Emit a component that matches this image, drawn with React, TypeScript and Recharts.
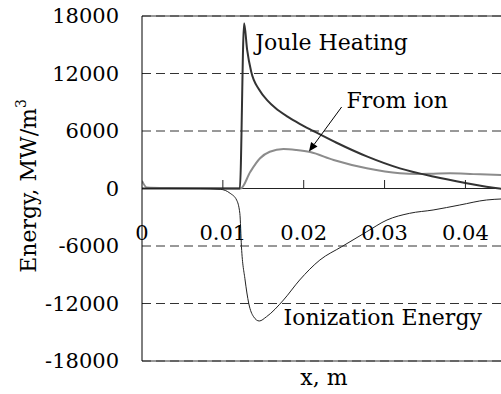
import React from "react";
import {
  LineChart,
  Line,
  XAxis,
  YAxis,
  CartesianGrid,
  ReferenceLine,
  ReferenceDot,
} from "recharts";

const FONT = "DejaVu Serif";
const FS = 21;
const FS_NOTE = 22;

const xTicks = [0, 0.01, 0.02, 0.03, 0.04];
const yTicks = [-18000, -12000, -6000, 0, 6000, 12000, 18000];

const jouleX = [0, 0.006, 0.0121, 0.01263, 0.013, 0.0135, 0.0145, 0.0155, 0.0165, 0.018, 0.0195, 0.0212, 0.024, 0.0278, 0.0319, 0.036, 0.04, 0.0442, 0.0446];
const jouleY = [0, 0, 0, 17240, 14500, 12200, 10300, 9200, 8400, 7500, 6750, 6000, 4800, 3350, 2100, 1250, 580, 0, -40];

const fromIonX = [0, 0.0006, 0.003, 0.0122, 0.0134, 0.0146, 0.0158, 0.0175, 0.0191, 0.0208, 0.0237, 0.0278, 0.0319, 0.034, 0.036, 0.0381, 0.041, 0.0445];
const fromIonY = [800, 100, 50, 0, 1750, 3150, 3840, 4120, 4017, 3800, 2974, 2108, 1586, 1513, 1550, 1586, 1500, 1400];

const ionizX = [0, 0.0072, 0.0097, 0.0109, 0.0117, 0.0121, 0.0123, 0.01275, 0.0132, 0.0138, 0.0145, 0.0154, 0.0175, 0.0195, 0.022, 0.0247, 0.0278, 0.0303, 0.0331, 0.036, 0.0393, 0.0426, 0.0445];
const ionizY = [0, 0, -83, -500, -1200, -2590, -6073, -9548, -11980, -13378, -13826, -13378, -11635, -9548, -7461, -6073, -4508, -3287, -2588, -2244, -1722, -1200, -1090];

// annotation anchors (data coords)
const labelJoule = { x: 0.014, y: 14450, text: "Joule Heating" };
const labelIon = { x: 0.0253, y: 8370, text: "From ion" };
const labelIoniz = { x: 0.0175, y: -14250, text: "Ionization Energy" };
const arrowFrom = { x: 0.02469, y: 8505 };
const arrowTo = { x: 0.02065, y: 3861 };

const toRows = (xs: number[], ys: number[]) => xs.map((x, i) => ({ x, v: ys[i] }));

const jouleData = toRows(jouleX, jouleY);
const fromIonData = toRows(fromIonX, fromIonY);
const ionizData = toRows(ionizX, ionizY);

function XTick(props: any) {
  const { x, y, payload } = props;
  const zeroY = y - 172.5;
  return (
    <g>
      {payload.value !== 0 && (
        <line x1={x} x2={x} y1={zeroY} y2={zeroY - 8.5} stroke="#222" />
      )}
      <text x={x} y={y - 121} textAnchor="middle" fontSize={FS} style={{ fontFamily: FONT }} fill="#000">
        {String(payload.value)}
      </text>
    </g>
  );
}

function YTitle() {
  return (
    <text
      x={36}
      y={186}
      transform="rotate(-90, 36, 186)"
      textAnchor="middle"
      fontSize={FS_NOTE}
      style={{ fontFamily: FONT }}
      fill="#000"
    >
      Energy, MW/m
      <tspan dy={-10} fontSize={14}>3</tspan>
    </text>
  );
}

function XTitle() {
  return (
    <text x={324} y={385} textAnchor="middle" fontSize={FS_NOTE} style={{ fontFamily: FONT }} fill="#000">
      x, m
    </text>
  );
}

const textShape = (text: string) => (p: any) => (
  <text x={p.cx} y={p.cy} fontSize={FS_NOTE} style={{ fontFamily: FONT }} fill="#000">
    {text}
  </text>
);

function Arrow(p: any) {
  const { x1, y1, x2, y2 } = p;
  const dx = x2 - x1;
  const dy = y2 - y1;
  const len = Math.sqrt(dx * dx + dy * dy);
  const ux = dx / len;
  const uy = dy / len;
  const bx = x2 - ux * 9;
  const by = y2 - uy * 9;
  const px = -uy * 4;
  const py = ux * 4;
  return (
    <g>
      <line x1={x1} y1={y1} x2={bx} y2={by} stroke="#000" strokeWidth={1} />
      <polygon points={`${x2},${y2} ${bx + px},${by + py} ${bx - px},${by - py}`} fill="#000" />
    </g>
  );
}

export default function App() {
  return (
    <div
      style={{
        position: "absolute",
        left: 0,
        top: 0,
        width: 501,
        height: 394,
        background: "#fff",
        overflow: "hidden",
        fontFamily: FONT,
      }}
    >
      <LineChart width={501} height={394} margin={{ top: 16, right: 0, bottom: 32, left: 0 }}>
        <CartesianGrid vertical={false} stroke="#333" strokeDasharray="9 5" />
        <XAxis
          dataKey="x"
          type="number"
          domain={[0, 0.0444]}
          allowDataOverflow
          ticks={xTicks}
          interval={0}
          height={1}
          axisLine={false}
          tickLine={false}
          tickSize={0}
          tickMargin={0}
          tick={<XTick />}
          label={{ content: XTitle }}
        />
        <YAxis
          type="number"
          domain={[-18000, 18000]}
          ticks={yTicks}
          interval={0}
          width={142}
          axisLine={{ stroke: "#000" }}
          tickLine={false}
          tickSize={0}
          tickMargin={23}
          tick={{ fontSize: FS, fontFamily: FONT, fill: "#000" }}
          label={{ content: YTitle }}
        />
        <ReferenceLine y={18000} stroke="#333" />
        <ReferenceLine y={-18000} stroke="#333" />
        <ReferenceLine y={0} stroke="#222" />
        <Line
          data={fromIonData}
          dataKey="v"
          type="monotone"
          stroke="#8c8c8c"
          strokeWidth={2}
          dot={false}
          isAnimationActive={false}
        />
        <Line
          data={jouleData}
          dataKey="v"
          type="monotone"
          stroke="#333"
          strokeWidth={2}
          dot={false}
          isAnimationActive={false}
        />
        <Line
          data={ionizData}
          dataKey="v"
          type="monotone"
          stroke="#222"
          strokeWidth={1}
          dot={false}
          isAnimationActive={false}
        />
        <ReferenceLine segment={[arrowFrom, arrowTo]} shape={Arrow} />
        <ReferenceDot x={labelJoule.x} y={labelJoule.y} r={0} shape={textShape(labelJoule.text)} />
        <ReferenceDot x={labelIon.x} y={labelIon.y} r={0} shape={textShape(labelIon.text)} />
        <ReferenceDot x={labelIoniz.x} y={labelIoniz.y} r={0} shape={textShape(labelIoniz.text)} />
      </LineChart>
    </div>
  );
}
